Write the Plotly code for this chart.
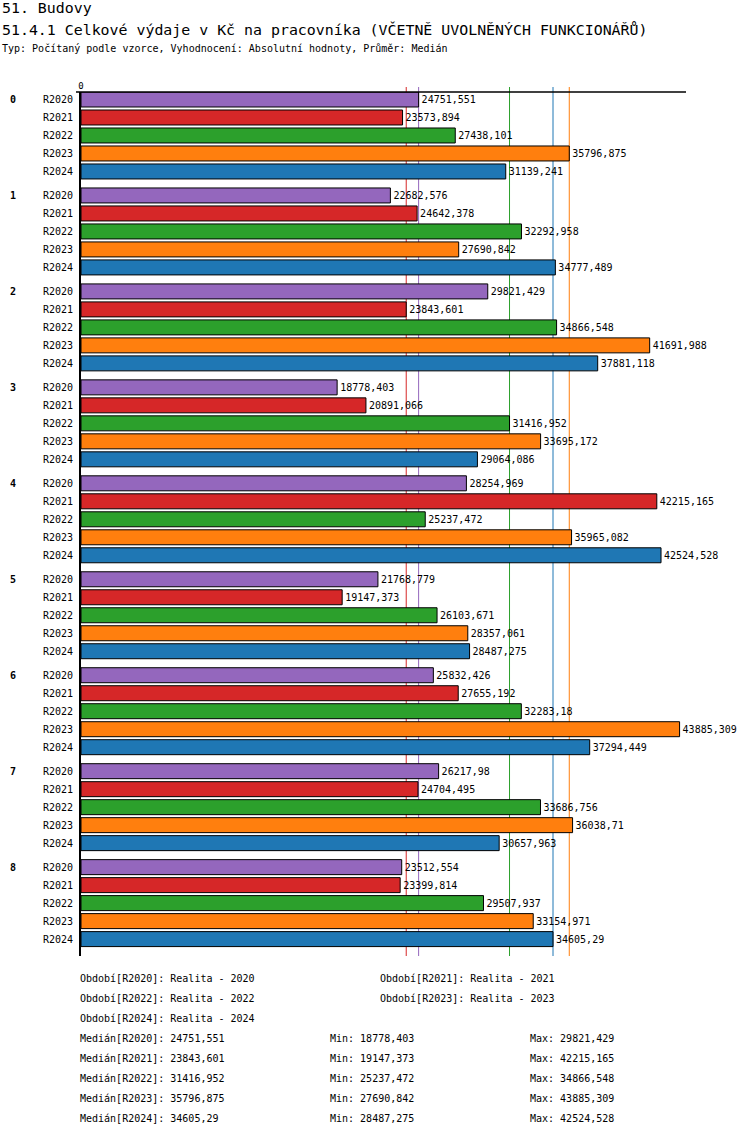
import statistics
import plotly.graph_objects as go

# data
groups = ["0", "1", "2", "3", "4", "5", "6", "7", "8"]
series = ["R2020", "R2021", "R2022", "R2023", "R2024"]
colors = ["#9467bd", "#d62728", "#2ca02c", "#ff7f0e", "#1f77b4"]

r2020 = [24751.551, 22682.576, 29821.429, 18778.403, 28254.969, 21768.779, 25832.426, 26217.98, 23512.554]
r2021 = [23573.894, 24642.378, 23843.601, 20891.066, 42215.165, 19147.373, 27655.192, 24704.495, 23399.814]
r2022 = [27438.101, 32292.958, 34866.548, 31416.952, 25237.472, 26103.671, 32283.18, 33686.756, 29507.937]
r2023 = [35796.875, 27690.842, 41691.988, 33695.172, 35965.082, 28357.061, 43885.309, 36038.71, 33154.971]
r2024 = [31139.241, 34777.489, 37881.118, 29064.086, 42524.528, 28487.275, 37294.449, 30657.963, 34605.29]
values = [r2020, r2021, r2022, r2023, r2024]

periods = ["Realita - 2020", "Realita - 2021", "Realita - 2022", "Realita - 2023", "Realita - 2024"]

FONT = "DejaVu Sans Mono"

# pixel frame of the plot area
L, R, T, B = 81, 686, 92, 956
W, H = R - L, B - T


def px_x(px):
    return (px - L) / W


def px_y(py):
    return (B - py) / H


def fmt(v):
    return str(v).replace(".", ",")


group_step = 16 / 3  # 5 rows + gap


def row_pos(g, i):
    return g * group_step + i


fig = go.Figure()

for i, name in enumerate(series):
    fig.add_trace(go.Bar(
        x=values[i],
        y=[row_pos(g, i) for g in range(len(groups))],
        orientation="h",
        width=0.833,
        name=name,
        marker=dict(color=colors[i], line=dict(color="black", width=1)),
        text=[fmt(v) for v in values[i]],
        textposition="outside",
        constraintext="none",
        cliponaxis=False,
        textfont=dict(family=FONT, size=10, color="black"),
        showlegend=False,
    ))

# median lines
shapes = []
medians = [statistics.median(v) for v in values]
for i, m in enumerate(medians):
    shapes.append(dict(type="line", xref="x", yref="paper", x0=m, x1=m,
                       y0=0, y1=1 + 5 / H, line=dict(color=colors[i], width=1),
                       layer="below"))
# top line
shapes.append(dict(type="line", xref="paper", yref="paper", x0=px_x(76), x1=1,
                   y0=1, y1=1, line=dict(color="black", width=1.5)))

ann = []
for g, lab in enumerate(groups):
    ann.append(dict(x=px_x(12.5), xref="paper", y=row_pos(g, 0), yref="y",
                    text="<b>" + lab + "</b>", showarrow=False, xanchor="center",
                    font=dict(family=FONT, size=10, color="black")))

# header
ann.append(dict(x=px_x(0), xref="paper", y=px_y(8), yref="paper", text="51. Budovy",
                showarrow=False, xanchor="left", yanchor="middle",
                font=dict(family=FONT, size=14.9, color="black")))
ann.append(dict(x=px_x(0), xref="paper", y=px_y(30), yref="paper",
                text="51.4.1 Celkové výdaje v Kč na pracovníka (VČETNĚ UVOLNĚNÝCH FUNKCIONÁŘŮ)",
                showarrow=False, xanchor="left", yanchor="middle",
                font=dict(family=FONT, size=14.9, color="black")))
ann.append(dict(x=px_x(0), xref="paper", y=px_y(49), yref="paper",
                text="Typ: Počítaný podle vzorce, Vyhodnocení: Absolutní hodnoty, Průměr: Medián",
                showarrow=False, xanchor="left", yanchor="middle",
                font=dict(family=FONT, size=10, color="black")))

# footer: periods
period_pos = [(78, 978), (378, 978), (78, 998), (378, 998), (78, 1018)]
for i, name in enumerate(series):
    px, py = period_pos[i]
    ann.append(dict(x=px_x(px), xref="paper", y=px_y(py), yref="paper",
                    text=f"Období[{name}]: {periods[i]}", showarrow=False,
                    xanchor="left", yanchor="middle",
                    font=dict(family=FONT, size=10, color="black")))

# footer: stats
for i, name in enumerate(series):
    py = 1038 + 20 * i
    for px, txt in [(78, f"Medián[{name}]: {fmt(medians[i])}"),
                    (328, f"Min: {fmt(min(values[i]))}"),
                    (528, f"Max: {fmt(max(values[i]))}")]:
        ann.append(dict(x=px_x(px), xref="paper", y=px_y(py), yref="paper",
                        text=txt, showarrow=False, xanchor="left", yanchor="middle",
                        font=dict(family=FONT, size=10, color="black")))

tickvals = [row_pos(g, i) for g in range(len(groups)) for i in range(len(series))]
ticktext = [series[i] for g in range(len(groups)) for i in range(len(series))]

fig.update_layout(
    width=750, height=1136,
    margin=dict(l=L, r=750 - R, t=T, b=1136 - B, pad=0),
    plot_bgcolor="white", paper_bgcolor="white",
    barmode="overlay",
    shapes=shapes,
    annotations=ann,
    font=dict(family=FONT, size=10, color="black"),
)
fig.update_xaxes(range=[0, 44355], side="top", tickvals=[0], ticktext=["0"],
                 tickfont=dict(family=FONT, size=9), showgrid=False,
                 zeroline=False, showline=False, ticks="")
fig.update_yaxes(range=[47.606, -0.4167], tickvals=tickvals, ticktext=ticktext,
                 tickfont=dict(family=FONT, size=10), showgrid=False, zeroline=False,
                 showline=True, linecolor="black", linewidth=2, ticks="",
                 ticklabelstandoff=4)

# page has a default 8px body margin; drop it so the figure sits at 0,0
fig.write_html("out.html", config={"displayModeBar": False},
               post_script="document.body.style.margin='0';")
